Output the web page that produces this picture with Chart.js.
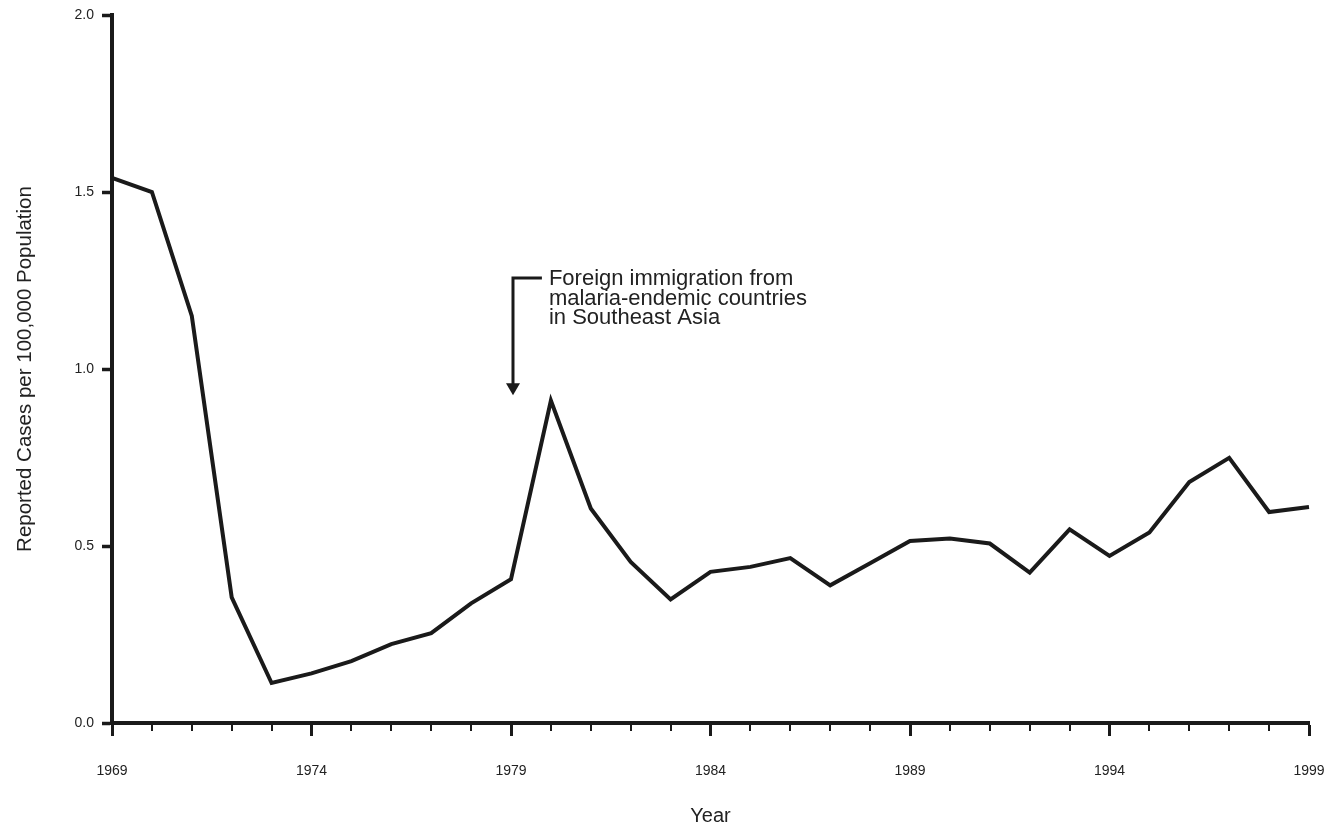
<!DOCTYPE html>
<html>
<head>
<meta charset="utf-8">
<script src="https://cdn.jsdelivr.net/npm/chart.js@4.4.1/dist/chart.umd.min.js"></script>
<style>
html,body{margin:0;padding:0;background:#fff;}
#wrap{width:1332px;height:830px;position:relative;}
</style>
</head>
<body>
<div id="wrap"><canvas id="c" width="1332" height="830"></canvas></div>
<script>
const years = [1969,1970,1971,1972,1973,1974,1975,1976,1977,1978,1979,1980,1981,1982,1983,1984,1985,1986,1987,1988,1989,1990,1991,1992,1993,1994,1995,1996,1997,1998,1999];
const rates = [1.54,1.50,1.15,0.355,0.113,0.14,0.175,0.223,0.254,0.338,0.406,0.911,0.606,0.455,0.349,0.427,0.441,0.466,0.389,0.451,0.514,0.521,0.507,0.425,0.547,0.472,0.538,0.681,0.749,0.596,0.610];
const yTicks = [0, 0.5, 1.0, 1.5, 2.0];
const xLabelYears = [1969,1974,1979,1984,1989,1994,1999];
const annotationLines = ["Foreign immigration from","malaria-endemic countries","in Southeast Asia"];
const annotationArrow = {x: 1979.05, yTop: 1.257, yTip: 0.926, textX: 1979.95};

const INK = '#1a1a1a';
const FONT = '"Liberation Sans", Arial, Helvetica, sans-serif';

const minorTicks = {
  id: 'minorTicks',
  afterDraw(chart) {
    const ctx = chart.ctx, xs = chart.scales.x, ys = chart.scales.y;
    const y0 = ys.getPixelForValue(0);
    ctx.save();
    ctx.strokeStyle = INK;
    ctx.lineWidth = 2;
    years.forEach(yr => {
      if (xLabelYears.includes(yr)) return;
      const px = Math.round(xs.getPixelForValue(yr));
      ctx.beginPath();
      ctx.moveTo(px, y0);
      ctx.lineTo(px, y0 + 8);
      ctx.stroke();
    });
    ctx.restore();
  }
};

const annot = {
  id: 'annot',
  afterDraw(chart) {
    const ctx = chart.ctx, xs = chart.scales.x, ys = chart.scales.y;
    const ax = xs.getPixelForValue(annotationArrow.x);
    const top = ys.getPixelForValue(annotationArrow.yTop);
    const tip = ys.getPixelForValue(annotationArrow.yTip);
    const tx = xs.getPixelForValue(annotationArrow.textX);
    ctx.save();
    ctx.strokeStyle = INK;
    ctx.fillStyle = INK;
    ctx.lineWidth = 3;
    ctx.beginPath();
    ctx.moveTo(tx - 7, top);
    ctx.lineTo(ax, top);
    ctx.lineTo(ax, tip - 10);
    ctx.stroke();
    ctx.beginPath();
    ctx.moveTo(ax - 7, tip - 12);
    ctx.lineTo(ax + 7, tip - 12);
    ctx.lineTo(ax, tip);
    ctx.closePath();
    ctx.fill();
    ctx.font = '22px ' + FONT;
    ctx.fillStyle = '#222';
    ctx.textBaseline = 'alphabetic';
    ctx.textAlign = 'left';
    annotationLines.forEach((t, i) => ctx.fillText(t, tx, top + 7 + i * 19.5));
    ctx.restore();
  }
};

new Chart(document.getElementById('c'), {
  type: 'line',
  data: {
    datasets: [{
      data: years.map((y, i) => ({x: y, y: rates[i]})),
      borderColor: INK,
      borderWidth: 4,
      pointRadius: 0,
      tension: 0,
      fill: false,
      clip: false,
      borderJoinStyle: 'miter'
    }]
  },
  options: {
    responsive: false,
    animation: false,
    devicePixelRatio: 1,
    layout: {padding: {left: 0, top: 15, right: 23, bottom: 0}},
    plugins: {legend: {display: false}, tooltip: {enabled: false}},
    scales: {
      x: {
        type: 'linear',
        min: 1969, max: 1999,
        afterFit(s) { s.height = 107; s.paddingLeft = 0; s.paddingRight = 0; },
        afterBuildTicks(s) { s.ticks = years.map(v => ({value: v})); },
        ticks: {
          autoSkip: false, maxRotation: 0, padding: 27,
          color: '#222',
          font: {family: FONT, size: 14},
          callback: v => xLabelYears.includes(v) ? String(v) : ''
        },
        grid: {
          drawOnChartArea: false, drawTicks: true, tickLength: 13,
          tickWidth: 3,
          tickColor: c => xLabelYears.includes(c.tick && c.tick.value) ? INK : 'rgba(0,0,0,0)'
        },
        border: {display: true, color: INK, width: 4},
        title: {display: true, text: 'Year', color: '#222', font: {family: FONT, size: 20}, padding: {top: 0, bottom: 2}}
      },
      y: {
        min: 0, max: 2,
        afterFit(s) { s.width = 112; s.paddingTop = 0; s.paddingBottom = 0; },
        afterBuildTicks(s) { s.ticks = yTicks.map(v => ({value: v})); },
        ticks: {
          padding: 8, color: '#222',
          font: {family: FONT, size: 14},
          callback: v => Number(v).toFixed(1)
        },
        grid: {drawOnChartArea: false, drawTicks: true, tickLength: 10, tickWidth: 3.5, tickColor: INK},
        border: {display: true, color: INK, width: 4},
        title: {display: true, text: 'Reported Cases per 100,000 Population', color: '#222', font: {family: FONT, size: 20.5}, padding: {top: 13, bottom: 0}}
      }
    }
  },
  plugins: [minorTicks, annot]
});
</script>
</body>
</html>
